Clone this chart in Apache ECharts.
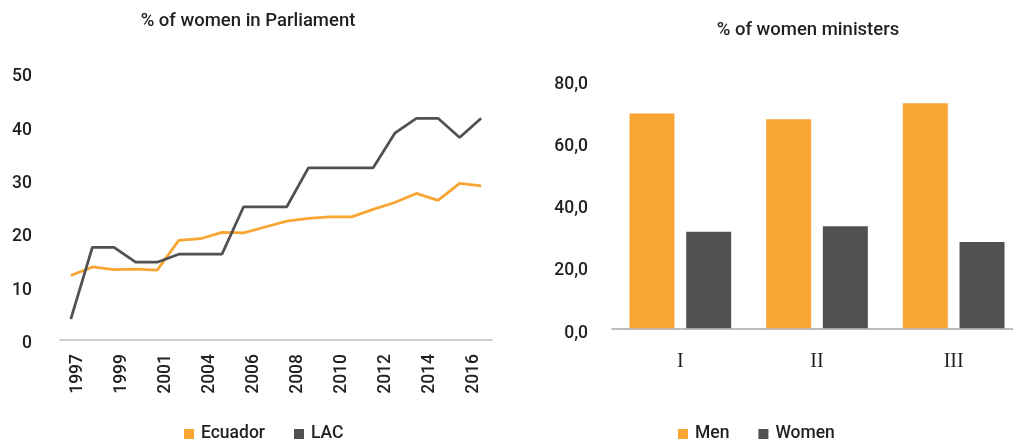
<!DOCTYPE html>
<html><head><meta charset="utf-8">
<script src="https://cdn.jsdelivr.net/npm/echarts@6/dist/echarts.min.js"></script>
<style>html,body{margin:0;padding:0;background:#fff;overflow:hidden}#c{width:1030px;height:444px}</style>
</head><body><div id="c"></div>
<script>
// ---- data ----
const years = ['1997','1998','1999','2000','2001','2002','2003','2004','2005','2006','2007','2008','2009','2010','2011','2012','2013','2014','2015','2016'];
const yearTickLabels = ['1997','1999','2001','2004','2006','2008','2010','2012','2014','2016'];
const ecuador = [12.1, 13.7, 13.2, 13.3, 13.1, 18.7, 19.0, 20.2, 20.1, 21.2, 22.3, 22.8, 23.1, 23.1, 24.5, 25.8, 27.5, 26.2, 29.4, 28.9];
const lac = [3.9, 17.4, 17.4, 14.6, 14.6, 16.1, 16.1, 16.1, 25.0, 25.0, 25.0, 32.3, 32.3, 32.3, 32.3, 38.8, 41.6, 41.6, 38.0, 41.6];
const periods = ['I', 'II', 'III'];
const men = [69.0, 67.2, 72.3];
const women = [31.0, 32.8, 27.7];

const ORANGE = '#F9A533';
const DARK = '#505153';
const TXT = '#231F20';
const FONT = 'Roboto';
const FW = 500;

const chart = echarts.init(document.getElementById('c'), null, {renderer: 'canvas'});
chart.setOption({
  animation: false,
  textStyle: {fontFamily: FONT, color: TXT},
  title: [
    {text: '% of women in Parliament', left: 248, top: 21, textAlign: 'center', textVerticalAlign: 'middle', padding: 0,
     textStyle: {fontFamily: FONT, fontSize: 18.5, fontWeight: FW, color: TXT}},
    {text: '% of women ministers', left: 808, top: 30, textAlign: 'center', textVerticalAlign: 'middle', padding: 0,
     textStyle: {fontFamily: FONT, fontSize: 18.5, fontWeight: FW, color: TXT}}
  ],
  legend: [
    {data: ['Ecuador', 'LAC'], left: 184, top: 425, padding: 0, icon: 'rect', itemWidth: 10, itemHeight: 10, itemGap: 29,
     textStyle: {fontFamily: FONT, fontSize: 17.5, fontWeight: FW, color: TXT, padding: [0, 0, 0, 2]}},
    {data: ['Men', 'Women'], left: 678, top: 425, padding: 0, icon: 'rect', itemWidth: 10, itemHeight: 10, itemGap: 29,
     textStyle: {fontFamily: FONT, fontSize: 17.5, fontWeight: FW, color: TXT, padding: [0, 0, 0, 2]}}
  ],
  grid: [
    {left: 60, top: 73.5, width: 432, height: 266.5, containLabel: false},
    {left: 77.5, top: 73.5, width: 396.5, height: 266.5, containLabel: false},
    {left: 612, top: 79.3, width: 410, height: 249, containLabel: false}
  ],
  xAxis: [
    {gridIndex: 0, type: 'category', data: years, boundaryGap: true,
     axisLine: {lineStyle: {color: '#BDBDBD', width: 1.5}}, axisTick: {show: false}, axisLabel: {show: false}},
    {gridIndex: 1, type: 'category', data: yearTickLabels, boundaryGap: false,
     axisLine: {show: false}, axisTick: {show: false},
     axisLabel: {rotate: 90, interval: 0, margin: 14, fontFamily: FONT, fontSize: 17.5, fontWeight: FW, color: TXT}},
    {gridIndex: 2, type: 'category', data: periods, boundaryGap: true,
     axisLine: {lineStyle: {color: '#A6A6A6', width: 1.5}}, axisTick: {show: false},
     axisLabel: {margin: 23, fontFamily: 'Liberation Serif', fontSize: 20, color: TXT}}
  ],
  yAxis: [
    {gridIndex: 0, type: 'value', min: 0, max: 50, interval: 10,
     splitLine: {show: false}, axisLine: {show: false}, axisTick: {show: false},
     axisLabel: {margin: 28, verticalAlign: 'top', lineHeight: 7, fontFamily: FONT, fontSize: 17.5, fontWeight: FW, color: TXT}},
    {gridIndex: 1, type: 'value', min: 0, max: 50, show: false},
    {gridIndex: 2, type: 'value', min: 0, max: 80, interval: 20,
     splitLine: {show: false}, axisLine: {show: false}, axisTick: {show: false},
     axisLabel: {margin: 24, verticalAlign: 'top', lineHeight: 10, fontFamily: FONT, fontSize: 17.5, fontWeight: FW, color: TXT,
       formatter: v => v.toFixed(1).replace('.', ',')}}
  ],
  series: [
    {name: 'Ecuador', type: 'line', xAxisIndex: 0, yAxisIndex: 0, data: ecuador, symbol: 'none',
     lineStyle: {color: ORANGE, width: 2.75}, itemStyle: {color: ORANGE}},
    {name: 'LAC', type: 'line', xAxisIndex: 0, yAxisIndex: 0, data: lac, symbol: 'none',
     lineStyle: {color: DARK, width: 2.75}, itemStyle: {color: DARK}, z: 3},
    {name: 'Men', type: 'bar', xAxisIndex: 2, yAxisIndex: 2, data: men, barWidth: 45, barGap: '26%',
     itemStyle: {color: ORANGE}},
    {name: 'Women', type: 'bar', xAxisIndex: 2, yAxisIndex: 2, data: women, barWidth: 45,
     itemStyle: {color: DARK}}
  ]
});
</script>
</body></html>
